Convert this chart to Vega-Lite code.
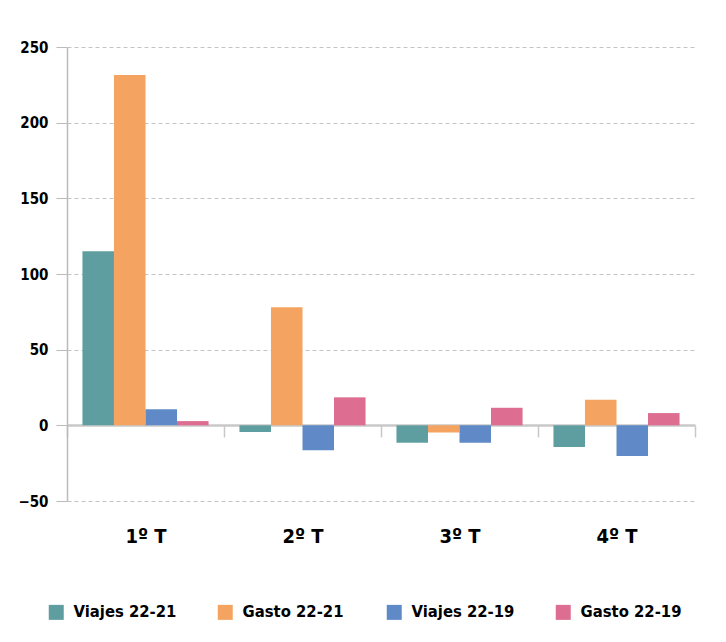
{
  "$schema": "https://vega.github.io/schema/vega-lite/v6.json",
  "width": 628,
  "height": 454,
  "autosize": {"type": "none"},
  "padding": {"left": 67, "top": 47, "right": 31, "bottom": 141},
  "background": "white",
  "data": {
    "values": [
      {"trimestre": "1º T", "serie": "Viajes 22-21", "valor": 115},
      {"trimestre": "1º T", "serie": "Gasto 22-21", "valor": 231.5},
      {"trimestre": "1º T", "serie": "Viajes 22-19", "valor": 10.6},
      {"trimestre": "1º T", "serie": "Gasto 22-19", "valor": 2.8},
      {"trimestre": "2º T", "serie": "Viajes 22-21", "valor": -4.4},
      {"trimestre": "2º T", "serie": "Gasto 22-21", "valor": 78},
      {"trimestre": "2º T", "serie": "Viajes 22-19", "valor": -16.5},
      {"trimestre": "2º T", "serie": "Gasto 22-19", "valor": 18.5},
      {"trimestre": "3º T", "serie": "Viajes 22-21", "valor": -11.5},
      {"trimestre": "3º T", "serie": "Gasto 22-21", "valor": -4.7},
      {"trimestre": "3º T", "serie": "Viajes 22-19", "valor": -11.5},
      {"trimestre": "3º T", "serie": "Gasto 22-19", "valor": 11.6},
      {"trimestre": "4º T", "serie": "Viajes 22-21", "valor": -14.3},
      {"trimestre": "4º T", "serie": "Gasto 22-21", "valor": 16.9},
      {"trimestre": "4º T", "serie": "Viajes 22-19", "valor": -20.3},
      {"trimestre": "4º T", "serie": "Gasto 22-19", "valor": 8.1}
    ]
  },
  "mark": {"type": "bar"},
  "encoding": {
    "x": {
      "field": "trimestre",
      "type": "nominal",
      "sort": ["1º T", "2º T", "3º T", "4º T"],
      "scale": {"paddingInner": 0, "paddingOuter": 0},
      "axis": {
        "title": null,
        "offset": -76,
        "tickBand": "extent",
        "domainColor": "#c8c8c8",
        "domainWidth": 2.5,
        "tickColor": "#c8c8c8",
        "tickWidth": 1.5,
        "tickSize": 12,
        "labelAngle": 0,
        "labelPadding": 89,
        "labelFont": "DejaVu Sans Condensed, Liberation Sans Narrow, Roboto",
        "labelFontWeight": "bold",
        "labelFontSize": 20,
        "labelColor": "#000000",
        "grid": false
      }
    },
    "xOffset": {
      "field": "serie",
      "sort": ["Viajes 22-21", "Gasto 22-21", "Viajes 22-19", "Gasto 22-19"],
      "scale": {"paddingInner": 0, "paddingOuter": 0.49}
    },
    "y": {
      "field": "valor",
      "type": "quantitative",
      "scale": {"domain": [-50, 250], "nice": false},
      "axis": {
        "title": null,
        "values": [-50, 0, 50, 100, 150, 200, 250],
        "domainColor": "#bbbbbb",
        "domainWidth": 1.5,
        "tickColor": "#bbbbbb",
        "tickSize": 11,
        "labelPadding": 8,
        "labelFont": "DejaVu Sans Condensed, Liberation Sans Narrow, Roboto",
        "labelFontWeight": "bold",
        "labelFontSize": 15,
        "labelColor": "#000000",
        "grid": true,
        "gridDash": [4, 3],
        "gridColor": "#c4c4c4",
        "gridWidth": 1
      }
    },
    "color": {
      "field": "serie",
      "type": "nominal",
      "scale": {
        "domain": ["Viajes 22-21", "Gasto 22-21", "Viajes 22-19", "Gasto 22-19"],
        "range": ["#5f9ea0", "#f4a460", "#5f8ac7", "#dd6e91"]
      },
      "legend": {
        "title": null,
        "orient": "none",
        "legendX": -19,
        "legendY": 557,
        "direction": "horizontal",
        "columns": 4,
        "gridAlign": "all",
        "columnPadding": 40,
        "padding": 0,
        "symbolType": "square",
        "symbolSize": 225,
        "symbolStrokeWidth": 0,
        "symbolOpacity": 1,
        "labelOffset": 9,
        "labelFont": "DejaVu Sans Condensed, Liberation Sans Narrow, Roboto",
        "labelFontWeight": "bold",
        "labelFontSize": 16.5,
        "labelColor": "#000000",
        "labelLimit": 300
      }
    }
  },
  "config": {"view": {"stroke": null}}
}
